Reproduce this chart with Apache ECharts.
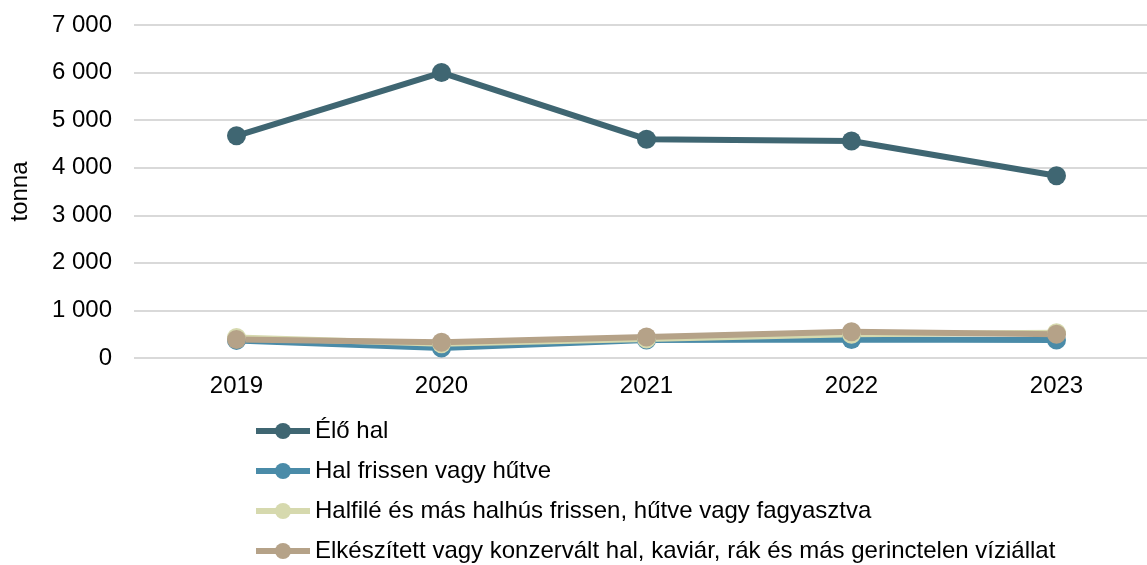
<!DOCTYPE html>
<html>
<head>
<meta charset="utf-8">
<script src="https://cdn.jsdelivr.net/npm/echarts@6/dist/echarts.min.js"></script>
<style>
  html, body { margin: 0; padding: 0; background: #fff; }
  #chart { width: 1147px; height: 565px; }
</style>
</head>
<body>
<div id="chart"></div>
<script>
  // years on the x axis
  const years = ['2019', '2020', '2021', '2022', '2023'];
  // tonna
  const eloHal = [4670, 6000, 4600, 4560, 3830];
  const halFrissen = [370, 210, 380, 390, 380];
  const halfile = [430, 300, 400, 500, 530];
  const elkeszitett = [390, 330, 440, 550, 500];

  const names = [
    'Élő hal',
    'Hal frissen vagy hűtve',
    'Halfilé és más halhús frissen, hűtve vagy fagyasztva',
    'Elkészített vagy konzervált hal, kaviár, rák és más gerinctelen víziállat'
  ];
  const colors = ['#3F6672', '#4A8BA8', '#D6D9AE', '#B5A288'];
  const values = [eloHal, halFrissen, halfile, elkeszitett];

  const fmt = v => String(v).replace(/\B(?=(\d{3})+(?!\d))/g, ' ');

  const chart = echarts.init(document.getElementById('chart'));
  const font = 'Liberation Sans';

  const option = {
    animation: false,
    textStyle: { fontFamily: font },
    color: colors,
    grid: {
      left: 134,
      top: 25,
      width: 1025,
      height: 333,
      outerBoundsMode: 'none'
    },
    legend: {
      orient: 'vertical',
      left: 253,
      top: 419,
      height: 200,
      padding: 0,
      itemWidth: 54,
      itemHeight: 20,
      itemGap: 16,
      data: names,
      lineStyle: { width: 6 },
      textStyle: { fontSize: 24, color: '#000', fontFamily: font }
    },
    xAxis: {
      type: 'category',
      data: years,
      boundaryGap: true,
      axisLine: { show: false },
      axisTick: { show: false },
      axisLabel: { fontSize: 24, color: '#000', margin: 16, fontFamily: font }
    },
    yAxis: {
      type: 'value',
      min: 0,
      max: 7000,
      interval: 1000,
      name: 'tonna',
      nameLocation: 'middle',
      nameGap: 102,
      nameRotate: 90,
      nameTextStyle: { fontSize: 24, color: '#000', fontFamily: font },
      axisLabel: { fontSize: 24, color: '#000', margin: 22, formatter: fmt, fontFamily: font },
      splitLine: { lineStyle: { color: '#D9D9D9', width: 2 } }
    },
    series: names.map((n, i) => ({
      name: n,
      type: 'line',
      data: values[i],
      symbol: 'circle',
      symbolSize: 19,
      lineStyle: { width: 6, color: colors[i] },
      itemStyle: { color: colors[i] }
    }))
  };
  chart.setOption(option);
</script>
</body>
</html>
